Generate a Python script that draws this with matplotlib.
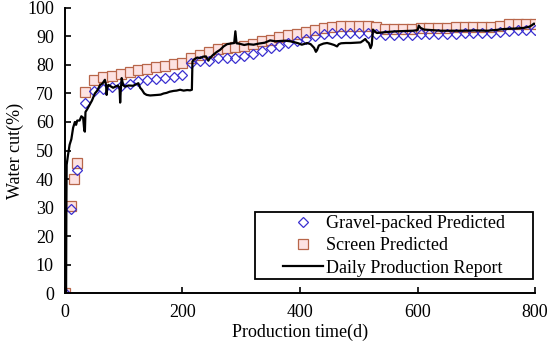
import matplotlib
matplotlib.use("Agg")
import matplotlib.pyplot as plt
from matplotlib.patches import Rectangle
from matplotlib.lines import Line2D

plt.rcParams['font.family'] = ['Liberation Serif', 'DejaVu Serif']

# ---- data ----
days_gp = [0, 10, 20, 35, 50, 65, 80, 95, 110, 125, 140, 155, 170, 185, 200, 215, 230,
           245, 260, 275, 290, 305, 320, 335, 350, 365, 380, 395, 410, 425, 440, 455,
           470, 485, 500, 515, 530, 545, 560, 575, 590, 605, 620, 635, 650, 665, 680,
           695, 710, 725, 740, 755, 770, 785, 800]
wc_gp = [0, 29.4, 43.0, 66.8, 70.7, 71.5, 72.1, 72.7, 73.4, 74.4, 74.8, 75.0, 75.4, 75.7,
         76.3, 80.7, 81.5, 81.5, 82.3, 82.5, 82.6, 83.0, 83.9, 85.0, 85.9, 86.7, 87.6,
         88.3, 89.1, 90.3, 90.9, 91.2, 91.3, 91.3, 91.3, 91.3, 91.0, 90.6, 90.5, 90.5,
         90.6, 90.8, 90.9, 91.0, 91.0, 91.0, 91.1, 91.1, 91.2, 91.3, 91.5, 91.9, 92.1,
         92.3, 92.4]

days_sc = [0, 10, 15, 20, 35, 50, 65, 80, 95, 110, 125, 140, 155, 170, 185, 200, 215, 230,
           245, 260, 275, 290, 305, 320, 335, 350, 365, 380, 395, 410, 425, 440, 455,
           470, 485, 500, 515, 530, 545, 560, 575, 590, 605, 620, 635, 650, 665, 680,
           695, 710, 725, 740, 755, 770, 785, 800]
wc_sc = [0, 30.5, 40.0, 45.7, 70.4, 74.8, 75.6, 76.2, 76.9, 77.4, 78.1, 78.7, 79.3, 79.7,
         80.2, 80.6, 82.6, 83.6, 84.5, 85.6, 86.0, 86.2, 86.5, 87.3, 88.3, 88.9, 89.7,
         90.4, 90.9, 91.4, 92.1, 93.0, 93.3, 93.5, 93.8, 93.8, 93.8, 93.3, 92.7, 92.6,
         92.6, 92.7, 92.8, 93.0, 93.1, 93.1, 93.2, 93.2, 93.2, 93.3, 93.4, 93.6, 94.2,
         94.3, 94.4, 94.5]

days_daily = [0, 2, 2.5, 3, 5, 8, 11, 14, 17, 19, 21, 25, 28, 31, 33, 34, 35, 38, 42, 46,
              51, 55, 60, 64, 68, 70, 71, 72, 74, 78, 82, 86, 90, 93, 94, 95, 96.6, 99,
              102, 108, 116, 121, 125, 128, 131, 135, 139, 145, 152, 158, 163, 168, 173,
              178, 185, 190, 196, 202, 208, 213, 216, 217, 220, 225, 230, 235, 240, 244,
              247, 252, 258, 264, 270, 276, 282, 288, 290, 292, 298, 305, 312, 321, 330,
              340, 349, 358, 366, 375, 383, 390, 397, 403, 408, 412, 418, 424, 427, 429,
              432, 435, 440, 446, 452, 458, 463, 466, 470, 478, 486, 495, 503, 508, 511,
              514, 517, 520, 522, 524, 528, 531, 540, 550, 565, 580, 592, 600, 602, 605,
              611, 625, 640, 662, 680, 700, 719, 735, 747, 760, 770, 781, 790, 795, 798, 800]
wc_daily = [0, 0, 30, 45, 48, 52, 54, 58, 60, 59, 60.5, 60.5, 62, 61.5, 57, 56.6, 63.5,
            64.5, 66, 67.5, 70, 71, 73, 73.5, 74.8, 73, 69.5, 72, 73, 72.5, 72, 72.4, 72.8,
            72, 66.8, 71, 75.4, 73, 72.4, 72.8, 72.7, 73.2, 73.6, 72, 71.3, 70, 69.5, 69.3,
            69.4, 69.5, 69.6, 70.0, 70.2, 70.6, 70.9, 71.0, 71.3, 71.0, 71.2, 71.1, 71.3,
            81.2, 82.0, 82.6, 82.4, 82.9, 83.0, 81.5, 82.5, 83.5, 84.5, 85.3, 86.5, 87.3,
            87.5, 87.7, 91.8, 87.6, 87.4, 87.0, 87.3, 87.1, 87.5, 87.8, 88.6, 88.3, 88.4,
            88.5, 88.3, 88.0, 87.6, 87.1, 87.4, 87.7, 87.3, 86.0, 84.6, 85.2, 86.8, 87.1,
            87.5, 87.7, 87.4, 87.0, 86.5, 87.3, 87.6, 87.7, 87.7, 87.8, 87.9, 88.6, 89.1,
            88.2, 87.7, 85.9, 87.0, 92.4, 91.6, 91.2, 91.4, 91.6, 91.8, 91.9, 92.0, 92.2,
            93.8, 93.0, 92.4, 92.2, 92.0, 92.0, 92.0, 92.1, 92.0, 92.3, 92.6, 92.7, 92.8,
            93.0, 93.4, 94.0, 94.5, 94.3]

labels = ["Gravel-packed Predicted", "Screen Predicted", "Daily Production Report"]
x_ticks = [0, 200, 400, 600, 800]
y_ticks = [0, 10, 20, 30, 40, 50, 60, 70, 80, 90, 100]

# ---- figure ----
fig = plt.figure(figsize=(5.5, 3.44), dpi=100)
ax = fig.add_axes([0.118, 0.148, 0.855, 0.829])

sq_style = dict(marker='s', markersize=6.8, markerfacecolor='#fde2e2',
                markeredgecolor='#b8664a', markeredgewidth=0.9)
di_style = dict(marker='D', markersize=5.2, markerfacecolor='none',
                markeredgecolor='#3a2fd0', markeredgewidth=0.9)

ax.plot(days_daily, wc_daily, color='black', lw=1.6, zorder=3)
ax.plot(days_sc, wc_sc, linestyle='none', zorder=2, **sq_style)
ax.plot(days_gp, wc_gp, linestyle='none', zorder=2.5, **di_style)

ax.set_xlim(0, 800)
ax.set_ylim(0, 100)
ax.set_xticks(x_ticks)
ax.set_yticks(y_ticks)
ax.tick_params(direction='in', length=4, width=1.2, labelsize=13, pad=8)
for s in ['top', 'right']:
    ax.spines[s].set_visible(False)
for s in ['left', 'bottom']:
    ax.spines[s].set_linewidth(1.4)

ax.set_xlabel("Production time(d)", fontsize=13, labelpad=2)
ax.set_ylabel("Water cut(%)", fontsize=13, labelpad=2)

# legend
box = (0.404, 0.048, 0.592, 0.235)
ax.add_patch(Rectangle(box[:2], box[2], box[3], transform=ax.transAxes,
                       facecolor='white', edgecolor='black', lw=1.3, zorder=4))
handles = [
    Line2D([], [], linestyle='none', **di_style),
    Line2D([], [], linestyle='none', **sq_style),
    Line2D([], [], color='black', lw=1.6),
]
leg = ax.legend(handles, labels, loc='center', bbox_to_anchor=box, frameon=False,
                fontsize=13, handlelength=2.2, handletextpad=0.2, labelspacing=0.3,
                borderpad=0.1)
leg.set_zorder(5)

fig.savefig("out.png", dpi=100)
